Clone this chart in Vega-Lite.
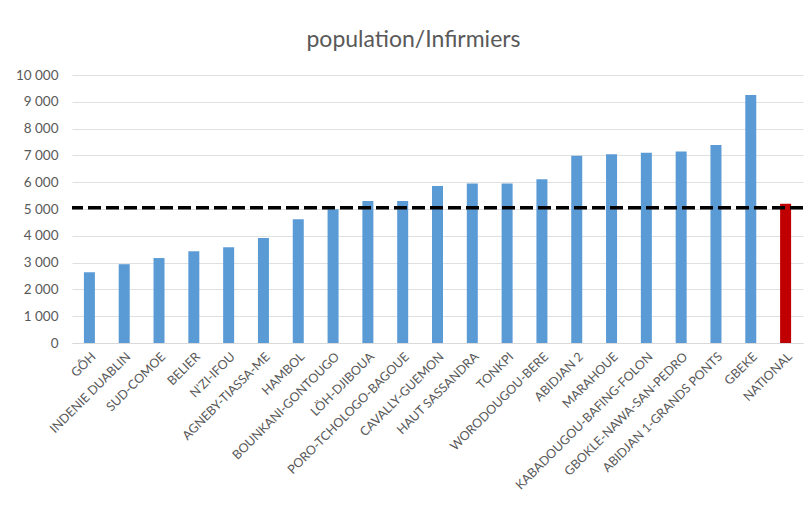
{
  "$schema": "https://vega.github.io/schema/vega-lite/v6.json",
  "width": 731,
  "height": 268,
  "autosize": "none",
  "padding": {"left": 72, "top": 75, "right": 7, "bottom": 170},
  "background": "white",
  "config": {
    "font": "Lato",
    "view": {"stroke": null},
    "locale": {"number": {"decimal": ",", "thousands": " ", "grouping": [3], "currency": ["", " €"]}}
  },
  "title": {
    "text": "population/Infirmiers",
    "fontSize": 23,
    "fontWeight": "normal",
    "color": "#595959",
    "anchor": "middle",
    "frame": "group",
    "dx": -24,
    "offset": 16
  },
  "datasets": {
    "bars": [
      {"region": "GÔH", "value": 2640, "type": "region"},
      {"region": "INDENIE DUABLIN", "value": 2940, "type": "region"},
      {"region": "SUD-COMOE", "value": 3170, "type": "region"},
      {"region": "BELIER", "value": 3420, "type": "region"},
      {"region": "N'ZI-IFOU", "value": 3570, "type": "region"},
      {"region": "AGNEBY-TIASSA-ME", "value": 3920, "type": "region"},
      {"region": "HAMBOL", "value": 4615, "type": "region"},
      {"region": "BOUNKANI-GONTOUGO", "value": 4990, "type": "region"},
      {"region": "LÖH-DJIBOUA", "value": 5300, "type": "region"},
      {"region": "PORO-TCHOLOGO-BAGOUE", "value": 5300, "type": "region"},
      {"region": "CAVALLY-GUEMON", "value": 5860, "type": "region"},
      {"region": "HAUT SASSANDRA", "value": 5950, "type": "region"},
      {"region": "TONKPI", "value": 5950, "type": "region"},
      {"region": "WORODOUGOU-BERE", "value": 6110, "type": "region"},
      {"region": "ABIDJAN 2", "value": 6990, "type": "region"},
      {"region": "MARAHOUE", "value": 7040, "type": "region"},
      {"region": "KABADOUGOU-BAFING-FOLON", "value": 7100, "type": "region"},
      {"region": "GBOKLE-NAWA-SAN-PEDRO", "value": 7150, "type": "region"},
      {"region": "ABIDJAN 1-GRANDS PONTS", "value": 7390, "type": "region"},
      {"region": "GBEKE", "value": 9250, "type": "region"},
      {"region": "NATIONAL", "value": 5200, "type": "national"}
    ],
    "ref": [{"threshold": 5050}]
  },
  "layer": [
    {
      "data": {"name": "bars"},
      "mark": {"type": "bar", "width": 11},
      "encoding": {
        "x": {
          "field": "region",
          "type": "nominal",
          "sort": null,
          "scale": {"paddingInner": 0, "paddingOuter": 0},
          "axis": {
            "title": null,
            "labelAngle": -45,
            "labelFontSize": 12.5,
            "labelColor": "#595959",
            "labelLimit": 0,
            "ticks": false,
            "domainColor": "#d9d9d9",
            "labelPadding": 7
          }
        },
        "y": {
          "field": "value",
          "type": "quantitative",
          "scale": {"domain": [0, 10000]},
          "axis": {
            "title": null,
            "values": [0, 1000, 2000, 3000, 4000, 5000, 6000, 7000, 8000, 9000, 10000],
            "format": ",d",
            "labelFontSize": 13.5,
            "labelColor": "#595959",
            "labelOverlap": false,
            "domain": false,
            "ticks": false,
            "gridColor": "#e0e0e0",
            "labelPadding": 14
          }
        },
        "color": {
          "field": "type",
          "type": "nominal",
          "scale": {"domain": ["region", "national"], "range": ["#5b9bd5", "#c00000"]},
          "legend": null
        }
      }
    },
    {
      "data": {"name": "ref"},
      "mark": {"type": "rule", "color": "black", "strokeWidth": 3.5, "strokeDash": [13, 5]},
      "encoding": {
        "y": {
          "field": "threshold",
          "type": "quantitative",
          "axis": {
            "title": null,
            "values": [0, 1000, 2000, 3000, 4000, 5000, 6000, 7000, 8000, 9000, 10000],
            "format": ",d",
            "labelFontSize": 13.5,
            "labelColor": "#595959",
            "labelOverlap": false,
            "domain": false,
            "ticks": false,
            "gridColor": "#e0e0e0",
            "labelPadding": 14
          }
        }
      }
    }
  ]
}
